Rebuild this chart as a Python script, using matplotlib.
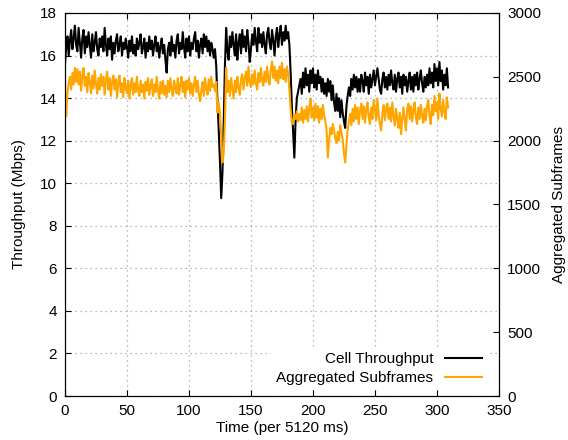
import numpy as np
import matplotlib.pyplot as plt

plt.rcParams['font.family'] = ['Liberation Sans', 'DejaVu Sans']

# cell throughput in Mbps, one value per 5120 ms slot (t = 0..309)
throughput = [
    15.6, 16.4, 16.9, 16.0, 16.7, 17.2, 16.3, 16.8, 17.4, 16.5,
    16.2, 17.3, 16.6, 15.9, 16.8, 17.2, 16.1, 16.9, 16.4, 17.1,
    16.5, 15.9, 17.0, 16.2, 16.6, 17.1, 16.3, 16.0, 16.8, 16.4,
    16.9, 16.2, 17.3, 16.5, 16.0, 16.8, 16.3, 16.9, 15.8, 16.6,
    16.1, 16.7, 17.0, 16.2, 16.5, 16.9, 16.0, 16.6, 16.3, 16.8,
    16.4, 15.9, 16.7, 16.2, 16.9, 16.1, 16.5, 16.0, 16.8, 16.3,
    16.6, 17.0, 16.1, 16.4, 16.8, 15.9, 16.6, 16.2, 16.9, 16.3,
    16.7, 16.0, 16.5, 16.9, 16.2, 16.6, 15.9, 16.4, 16.8, 16.1,
    16.5, 15.8, 15.2, 16.3, 16.6, 16.0, 16.9, 16.2, 16.5, 15.9,
    16.7, 17.0, 16.1, 16.6, 16.3, 17.1, 16.4, 15.9, 16.8, 16.2,
    16.9, 16.0, 16.6, 16.3, 16.8, 17.1, 16.2, 16.7, 15.9, 16.5,
    16.8, 16.1, 17.0, 16.4, 16.9, 16.2, 16.7, 16.0, 16.6, 16.3,
    15.9, 16.3, 15.5, 13.8, 12.5, 11.0, 9.3, 10.5, 12.8, 15.5,
    17.3, 16.2, 15.8, 16.9, 16.4, 17.1, 16.5, 16.0, 17.0, 15.8,
    16.6, 17.0, 16.1, 17.2, 16.4, 16.9, 16.2, 17.2, 16.6, 15.7,
    16.3, 17.0, 16.5, 17.3, 16.7, 16.2, 17.3, 16.6, 17.0, 16.4,
    17.1, 16.5, 16.1, 17.0, 17.3, 16.6, 16.3, 17.2, 16.7, 16.0,
    16.9, 17.3, 16.4, 17.0, 17.4, 16.5, 17.1, 16.7, 17.4, 16.8,
    17.1, 16.5, 15.2, 13.6, 12.4, 11.2, 13.0, 14.0, 14.3, 14.6,
    14.9, 14.2, 15.2, 14.5, 15.4, 14.6, 15.1, 14.3, 15.3, 14.7,
    15.4, 14.5, 15.1, 14.4, 15.3, 14.7, 15.0, 14.3, 14.9, 14.2,
    14.7, 14.1, 14.9, 14.3, 14.8, 13.9, 14.6, 13.8, 13.4, 14.2,
    13.4, 14.0, 13.1, 13.9, 13.3, 12.9, 12.6, 13.6, 14.1, 14.5,
    14.1, 14.9, 14.4, 15.1, 14.5, 15.0, 14.3, 14.9, 14.3, 15.1,
    14.8, 14.3, 15.2, 14.6, 15.0, 14.2, 15.1, 14.5, 14.9, 15.3,
    14.6, 15.0, 15.4, 14.9, 14.4, 14.2, 14.9, 15.2, 14.5, 15.0,
    14.4, 15.1, 14.6, 15.3, 14.7, 14.4, 15.1, 14.3, 14.9, 15.2,
    14.5, 15.0, 14.2, 15.1, 14.6, 15.0, 14.3, 14.8, 15.2, 14.4,
    15.0, 14.3, 15.1, 14.6, 15.2, 14.4, 14.9, 15.3, 14.7, 14.3,
    15.0, 14.5, 15.1, 14.6, 15.4, 14.7, 15.2, 14.5, 15.6, 14.8,
    15.4, 14.6, 15.7, 14.8, 15.3, 14.4, 15.1, 14.6, 15.4, 14.5,
]

# aggregated subframes per slot
subframes = [
    2470, 2190, 2380, 2450, 2500, 2400, 2530, 2440, 2570, 2460,
    2560, 2440, 2540, 2390, 2510, 2570, 2430, 2500, 2380, 2530,
    2460, 2370, 2510, 2410, 2550, 2440, 2370, 2490, 2400, 2520,
    2430, 2500, 2360, 2470, 2540, 2400, 2490, 2350, 2460, 2510,
    2400, 2480, 2340, 2460, 2510, 2380, 2450, 2340, 2490, 2410,
    2370, 2470, 2330, 2440, 2490, 2360, 2450, 2380, 2500, 2400,
    2350, 2470, 2380, 2440, 2330, 2460, 2390, 2490, 2360, 2430,
    2480, 2350, 2440, 2380, 2500, 2390, 2330, 2460, 2370, 2470,
    2360, 2430, 2340, 2470, 2380, 2490, 2400, 2350, 2470, 2410,
    2370, 2490, 2360, 2440, 2500, 2380, 2460, 2340, 2470, 2400,
    2490, 2370, 2450, 2350, 2440, 2500, 2380, 2470, 2360, 2310,
    2390, 2460, 2350, 2490, 2410, 2360, 2480, 2390, 2500, 2420,
    2440, 2390, 2460, 2220, 2300, 2210, 2050, 1830, 1900, 2150,
    2570, 2380, 2470, 2350, 2490, 2410, 2330, 2470, 2380, 2500,
    2420, 2360, 2480, 2520, 2400, 2490, 2540, 2430, 2580, 2460,
    2420, 2520, 2440, 2550, 2450, 2400, 2530, 2460, 2570, 2470,
    2430, 2540, 2460, 2580, 2480, 2440, 2560, 2620, 2490, 2580,
    2470, 2550, 2450, 2580, 2490, 2610, 2480, 2560, 2460, 2580,
    2520, 2400, 2250, 2140, 2130, 2200, 2170, 2230, 2150, 2210,
    2160, 2260, 2140, 2240, 2170, 2270, 2150, 2250, 2330, 2180,
    2260, 2160, 2290, 2180, 2270, 2140, 2250, 2170, 2280, 2200,
    2150, 2080, 1870, 2000, 2100, 2050, 2130, 2080, 2020, 1980,
    2070, 2000, 2120, 2060, 2010, 1900, 1830, 1960, 2090, 2150,
    2210, 2120, 2250, 2150, 2280, 2170, 2260, 2130, 2240, 2290,
    2170, 2270, 2140, 2250, 2300, 2180, 2130, 2260, 2170, 2320,
    2240, 2160, 2330, 2200, 2130, 2080, 2210, 2280, 2160, 2250,
    2290, 2170, 2260, 2150, 2300, 2190, 2120, 2250, 2170, 2100,
    2220, 2050, 2170, 2260, 2160, 2080, 2250, 2290, 2170, 2270,
    2150, 2240, 2300, 2180, 2130, 2260, 2170, 2280, 2200, 2140,
    2250, 2160, 2270, 2320, 2190, 2130, 2280, 2200, 2350, 2230,
    2300, 2170, 2370, 2250, 2190, 2320, 2230, 2170, 2340, 2260,
]

t = np.arange(len(throughput))

fig = plt.figure(figsize=(5.68, 4.40), dpi=100)
ax = fig.add_axes([0.1144, 0.1, 0.764, 0.8705])
ax2 = ax.twinx()

l1, = ax.plot(t, throughput, color='black', lw=1.5, label='Cell Throughput')
l2, = ax2.plot(t, subframes, color='#ffa500', lw=1.5, label='Aggregated Subframes')

ax.set_xlim(0, 350)
ax.set_ylim(0, 18)
ax2.set_ylim(0, 3000)
ax.set_xticks(range(0, 351, 50))
ax.set_yticks(range(0, 19, 2))
ax2.set_yticks(range(0, 3001, 500))

ax.grid(True, color='#a0a0a0', linestyle=(0, (1, 3)), lw=0.9)
ax.tick_params(direction='in', length=4, labelsize=11, top=True, pad=6)
ax2.tick_params(direction='in', length=4, labelsize=11, pad=6)

ax.set_xlabel('Time (per 5120 ms)', fontsize=11, labelpad=2)
ax.set_ylabel('Throughput (Mbps)', fontsize=11, labelpad=10)
ax2.set_ylabel('Aggregated Subframes', fontsize=11, labelpad=8)

leg = ax2.legend(handles=[l1, l2], loc='lower right',
                 bbox_to_anchor=(0.982, 0.005), fontsize=11,
                 markerfirst=False, frameon=True, fancybox=False,
                 edgecolor='none', framealpha=1, handlelength=2.4,
                 borderaxespad=0.3, labelspacing=0.3, borderpad=0.3)

plt.savefig('out.png')
